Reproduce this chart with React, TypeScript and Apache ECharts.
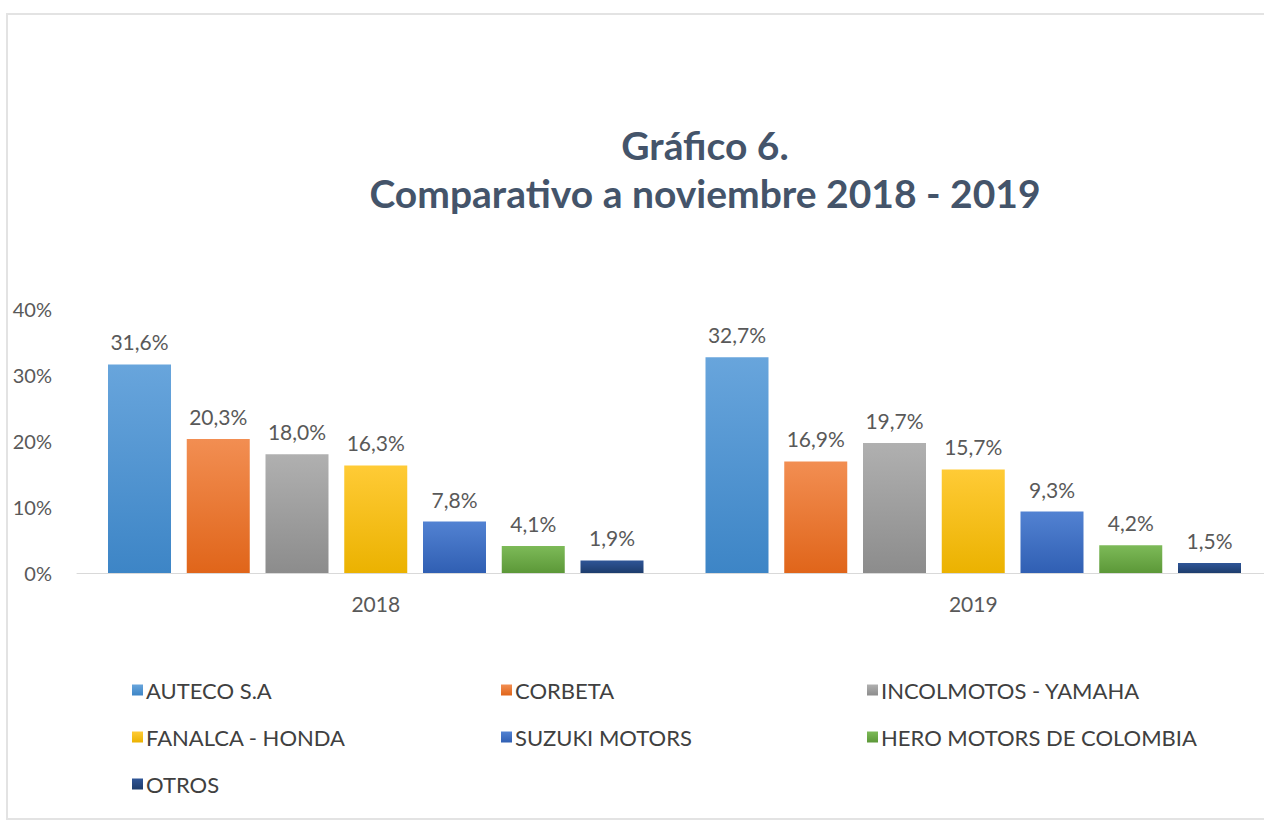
import React, { useEffect, useRef } from "react";
import * as echarts from "echarts";

const categories = ["2018", "2019"];
const seriesNames = [
  "AUTECO S.A",
  "CORBETA",
  "INCOLMOTOS - YAMAHA",
  "FANALCA - HONDA",
  "SUZUKI MOTORS",
  "HERO MOTORS DE COLOMBIA",
  "OTROS",
];
const autecoValues = [31.6, 32.7];
const corbetaValues = [20.3, 16.9];
const incolmotosValues = [18.0, 19.7];
const fanalcaValues = [16.3, 15.7];
const suzukiValues = [7.8, 9.3];
const heroValues = [4.1, 4.2];
const otrosValues = [1.9, 1.5];
const yTicks = [0, 10, 20, 30, 40];

const seriesValues = [
  autecoValues,
  corbetaValues,
  incolmotosValues,
  fanalcaValues,
  suzukiValues,
  heroValues,
  otrosValues,
];
const gradTop = ["#68A5DC", "#F28E52", "#B0B0B0", "#FFCB36", "#5282D2", "#7DBA58", "#2F5597"];
const gradBottom = ["#3D85C6", "#E0651A", "#8C8C8C", "#EBB200", "#305FB3", "#5C9838", "#1D3C6C"];

const legendColumns = [
  { left: 127, names: ["AUTECO S.A", "FANALCA - HONDA", "OTROS"] },
  { left: 496, names: ["CORBETA", "SUZUKI MOTORS"] },
  { left: 862, names: ["INCOLMOTOS - YAMAHA", "HERO MOTORS DE COLOMBIA"] },
];

const FONT = "Lato, 'Open Sans', sans-serif";

export default function App() {
  const ref = useRef<HTMLDivElement>(null);
  useEffect(() => {
    if (!ref.current) return;
    const chart = echarts.init(ref.current, undefined, { renderer: "svg" });
    const option: any = {
      animation: false,
      backgroundColor: "#ffffff",
      textStyle: { fontFamily: FONT },
      title: {
        text: "Gráfico 6.\nComparativo a noviembre 2018 - 2019",
        left: 700,
        top: 116,
        textAlign: "center",
        textStyle: {
          fontFamily: FONT,
          fontSize: 39,
          fontWeight: "bold",
          color: "#44546A",
          lineHeight: 48,
        },
      },
      graphic: [
        {
          type: "rect",
          shape: { x: 7, y: 14, width: 1275, height: 805 },
          style: { fill: "none", stroke: "#e3e3e3", lineWidth: 2 },
          silent: true,
        },
      ],
      legend: legendColumns.map((c) => ({
        orient: "vertical",
        left: c.left,
        top: 674,
        data: c.names,
        icon: "rect",
        itemWidth: 11,
        itemHeight: 11,
        itemGap: 25,
        textStyle: { fontFamily: FONT, fontSize: 22, color: "#404040", padding: [0, 0, 0, -2] },
      })),
      grid: { left: 77, top: 309, width: 1195, bottom: 250, containLabel: false },
      xAxis: {
        type: "category",
        data: categories,
        axisLine: { lineStyle: { color: "#d9d9d9", width: 1 } },
        axisTick: { show: false },
        axisLabel: { color: "#595959", fontSize: 21, fontFamily: FONT, margin: 20 },
      },
      yAxis: {
        type: "value",
        min: yTicks[0],
        max: yTicks[yTicks.length - 1],
        interval: 10,
        splitLine: { show: false },
        axisLine: { show: false },
        axisTick: { show: false },
        axisLabel: {
          color: "#595959",
          fontSize: 20,
          fontFamily: FONT,
          margin: 25,
          formatter: "{value}%",
        },
      },
      series: seriesNames.map((name, i) => ({
        name,
        type: "bar",
        data: seriesValues[i],
        barWidth: 63,
        barGap: "25%",
        itemStyle: {
          color: new echarts.graphic.LinearGradient(0, 0, 0, 1, [
            { offset: 0, color: gradTop[i] },
            { offset: 1, color: gradBottom[i] },
          ]),
        },
        label: {
          show: true,
          position: "top",
          distance: 12,
          color: "#595959",
          fontSize: 21,
          fontFamily: FONT,
          formatter: (p: any) => p.value.toFixed(1).replace(".", ",") + "%",
        },
      })),
    };
    chart.setOption(option);
    return () => chart.dispose();
  }, []);
  return (
    <div
      ref={ref}
      style={{ position: "fixed", left: 0, top: 0, width: 1290, height: 823 }}
    />
  );
}
